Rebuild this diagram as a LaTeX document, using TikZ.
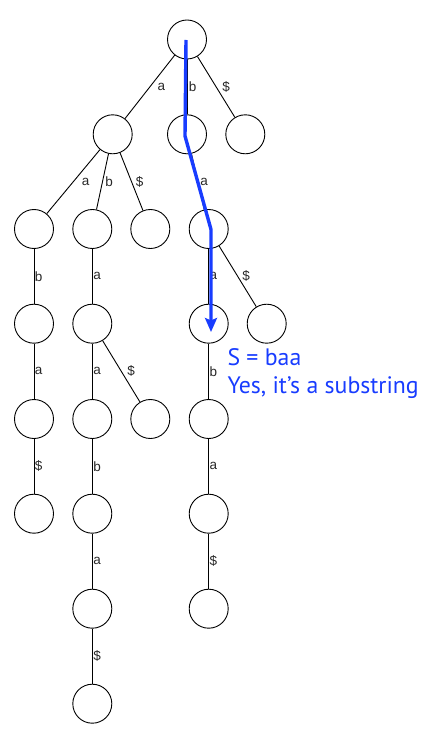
\documentclass[tikz,border=0pt]{standalone}
\usepackage{fontspec}
\setmainfont{Liberation Sans}
\newfontfamily\bluefont{PT Sans}
\usetikzlibrary{arrows.meta}
\definecolor{pathblue}{RGB}{24,60,255}
\definecolor{lblgray}{RGB}{40,40,40}
\tikzset{
  tn/.style={circle, draw=black, line width=0.9pt, minimum size=39pt, inner sep=0pt},
  edge/.style={draw=black, line width=0.9pt},
  lbl/.style={anchor=west, inner sep=0pt, text=lblgray, font=\fontsize{13.5}{14}\selectfont},
  hilite/.style={draw=pathblue, line width=3.4pt, line join=miter,
    -{Stealth[length=14pt,width=12pt,inset=2.5pt]}},
}
\begin{document}
\begin{tikzpicture}[x=1pt,y=-1pt]
\useasboundingbox (0,0) rectangle (434,743);
% nodes
\node[tn] (r) at (187,39.5) {};
\node[tn] (A) at (112.7,134.3) {};
\node[tn] (B) at (187,134.3) {};
\node[tn] (D) at (245.3,134.3) {};
\node[tn] (AA) at (34,229) {};
\node[tn] (AB) at (92.3,229) {};
\node[tn] (AD) at (150.3,229) {};
\node[tn] (BA) at (208.7,229) {};
\node[tn] (AAB) at (34,323.7) {};
\node[tn] (ABA) at (92.3,323.7) {};
\node[tn] (BAA) at (208.7,323.7) {};
\node[tn] (BAD) at (266.7,323.7) {};
\node[tn] (AABA) at (34,419) {};
\node[tn] (ABAA) at (92.3,419) {};
\node[tn] (ABAD) at (150.3,419) {};
\node[tn] (BAAB) at (208.7,419) {};
\node[tn] (AABAD) at (34,513.7) {};
\node[tn] (ABAAB) at (92.3,513.7) {};
\node[tn] (BAABA) at (208.7,513.7) {};
\node[tn] (ABAABA) at (92.3,608.7) {};
\node[tn] (BAABAD) at (208.7,608.7) {};
\node[tn] (ABAABAD) at (92.3,703.7) {};
% edges
\draw[edge] (r) -- node[lbl, xshift=7.4pt] {a} (A);
\draw[edge] (r) -- node[lbl, xshift=1.5pt] {b} (B);
\draw[edge] (r) -- node[lbl, xshift=5.8pt] {\$} (D);
\draw[edge] (A) -- node[lbl, xshift=8pt] {a} (AA);
\draw[edge] (A) -- node[lbl, xshift=2.5pt] {b} (AB);
\draw[edge] (A) -- node[lbl, xshift=4pt] {\$} (AD);
\draw[edge] (B) -- node[lbl, xshift=2pt] {a} (BA);
\draw[edge] (AA) -- node[lbl, xshift=0.5pt] {b} (AAB);
\draw[edge] (AB) -- node[lbl, xshift=0.5pt] {a} (ABA);
\draw[edge] (BA) -- node[lbl, xshift=0.5pt] {a} (BAA);
\draw[edge] (BA) -- node[lbl, xshift=4.3pt] {\$} (BAD);
\draw[edge] (AAB) -- node[lbl, xshift=0.5pt] {a} (AABA);
\draw[edge] (ABA) -- node[lbl, xshift=0.5pt] {a} (ABAA);
\draw[edge] (ABA) -- node[lbl, xshift=5.7pt] {\$} (ABAD);
\draw[edge] (BAA) -- node[lbl, xshift=0.5pt] {b} (BAAB);
\draw[edge] (AABA) -- node[lbl, xshift=0.5pt] {\$} (AABAD);
\draw[edge] (ABAA) -- node[lbl, xshift=0.5pt] {b} (ABAAB);
\draw[edge] (BAAB) -- node[lbl, xshift=0.5pt] {a} (BAABA);
\draw[edge] (ABAAB) -- node[lbl, xshift=0.5pt] {a} (ABAABA);
\draw[edge] (BAABA) -- node[lbl, xshift=0.5pt] {\$} (BAABAD);
\draw[edge] (ABAABA) -- node[lbl, xshift=0.5pt] {\$} (ABAABAD);
% highlighted search path
\coordinate (p0) at (186,40);
\coordinate (p1) at (185,136);
\coordinate (p2) at (211,229.5);
\coordinate (p3) at (211,332);
\draw[hilite] (p0) -- (p1) -- (p2) -- (p3);
\node[anchor=base west, inner sep=0pt, align=left, text=pathblue,
  font=\bluefont\fontsize{23.8}{27.6}\selectfont] (note) at (227.3,393.3)
  {S = baa\\Yes, it’s a substring};
\end{tikzpicture}
\end{document}
